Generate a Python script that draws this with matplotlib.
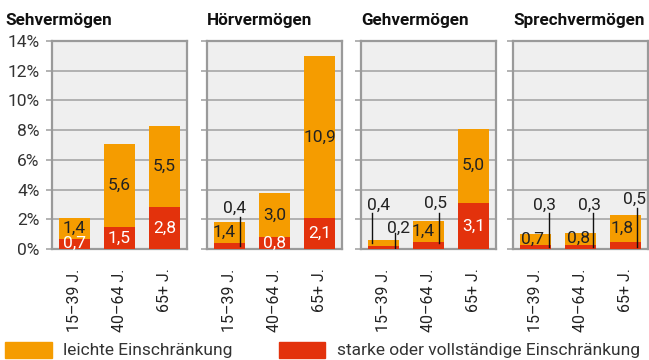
import matplotlib
matplotlib.use('Agg')
import matplotlib.pyplot as plt
from matplotlib.patches import Rectangle

plt.rcParams['font.family'] = ['Roboto', 'DejaVu Sans']

# data (percent)
titles = ['Sehvermögen', 'Hörvermögen', 'Gehvermögen', 'Sprechvermögen']
ages = ['15–39 J.', '40–64 J.', '65+ J.']
severe = [[0.7, 1.5, 2.8], [0.4, 0.8, 2.1], [0.2, 0.5, 3.1], [0.3, 0.3, 0.5]]
mild = [[1.4, 5.6, 5.5], [1.4, 3.0, 10.9], [0.4, 1.4, 5.0], [0.7, 0.8, 1.8]]
legend_labels = ['leichte Einschränkung', 'starke oder vollständige Einschränkung']

ORANGE = '#f59c00'
RED = '#e3320c'
BG = '#efefef'
GRID = '#a6a6a6'

# labels that sit outside their segment, with a leader line:
# (panel, bar, segment) -> (text dx, text y, line dx, line y0, line y1)
callouts = {
    (1, 0, 'severe'): (0.12, 2.75, 0.23, 2.15, 0.2),
    (2, 0, 'mild'): (-0.11, 2.95, -0.26, 2.42, 0.4),
    (2, 0, 'severe'): (0.34, 1.42, 0.26, 1.08, 0.07),
    (2, 1, 'severe'): (0.15, 3.1, 0.23, 2.42, 0.4),
    (3, 0, 'severe'): (0.21, 2.95, 0.29, 2.42, 0.13),
    (3, 1, 'severe'): (0.21, 2.95, 0.28, 2.42, 0.13),
    (3, 2, 'severe'): (0.19, 3.35, 0.26, 2.76, 0.13),
}
# small horizontal nudge for labels inside bars that have a callout next to them
nudge = {(1, 0): -0.12, (2, 1): -0.11, (3, 0): -0.07, (3, 1): -0.05, (3, 2): -0.07}

W, H = 649, 360
fig = plt.figure(figsize=(W / 100, H / 100), dpi=100)

lefts = [52, 207, 361, 513]
ax_w, ax_top, ax_bot = 135, 41, 249
VAL_FS = 12.5


def fmt(v):
    return f'{v:.1f}'.replace('.', ',')


for p in range(4):
    ax = fig.add_axes([lefts[p] / W, (H - ax_bot) / H, ax_w / W, (ax_bot - ax_top) / H])
    ax.set_facecolor(BG)
    x = range(3)
    ax.bar(x, severe[p], width=0.71, color=RED, zorder=3)
    ax.bar(x, mild[p], width=0.71, bottom=severe[p], color=ORANGE, zorder=3)
    ax.set_xlim(-0.5, 2.5)
    ax.set_ylim(0, 14)
    ax.set_yticks(range(0, 15, 2))
    ax.yaxis.grid(True, color=GRID, linewidth=1.2, zorder=1)
    ax.tick_params(axis='y', length=4, width=1.2, color=GRID, pad=5,
                   labelsize=12.5, labelcolor='#333333')
    if p == 0:
        ax.set_yticklabels([f'{t}%' for t in range(0, 15, 2)])
    else:
        ax.set_yticklabels([])
    ax.set_xticks(list(x))
    ax.set_xticklabels(ages, rotation=90, fontsize=11.5, color='#222222')
    ax.tick_params(axis='x', length=0, pad=14)
    for s in ax.spines.values():
        s.set_color('#9a9a9a')
        s.set_linewidth(1.6)

    for i in range(3):
        segs = {'severe': (0, severe[p][i]), 'mild': (severe[p][i], mild[p][i])}
        for key, (base, v) in segs.items():
            if (p, i, key) in callouts:
                tx, ty, lx, ly0, ly1 = callouts[(p, i, key)]
                ax.text(i + tx, ty, fmt(v), ha='center', va='center',
                        fontsize=VAL_FS, color='#222222', zorder=5)
                ax.plot([i + lx, i + lx], [ly0, ly1], color='#111111',
                        linewidth=1, zorder=5)
            else:
                dx = nudge.get((p, i), 0) if key == 'mild' else 0
                col = 'white' if key == 'severe' else '#222222'
                ax.text(i + dx, base + v / 2, fmt(v), ha='center', va='center',
                        fontsize=VAL_FS, color=col, zorder=5)

    tx = 5 if p == 0 else lefts[p]
    fig.text(tx / W, 1 - 20 / H, titles[p], ha='left', va='center',
             fontsize=12.3, fontweight='bold', color='#111111')

# legend
for (x0, x1, col, tx), lab in zip([(5, 52, ORANGE, 63), (279, 325, RED, 337)], legend_labels):
    fig.add_artist(Rectangle((x0 / W, (H - 358) / H), (x1 - x0) / W, 16 / H,
                             transform=fig.transFigure, color=col))
    fig.text(tx / W, 1 - 351 / H, lab, ha='left', va='center',
             fontsize=12.5, color='#333333')

plt.savefig('out.png', dpi=100)
